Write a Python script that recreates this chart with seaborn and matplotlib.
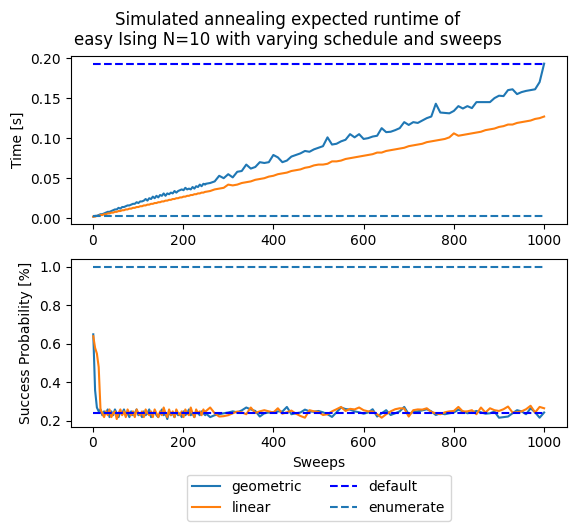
import numpy as np
import pandas as pd
import matplotlib
matplotlib.use("Agg")
import matplotlib.pyplot as plt
import seaborn as sns
from matplotlib.lines import Line2D

# Sweep grid: dense sampling at low sweeps, then every 10
sweeps = list(range(1, 250, 4)) + list(range(250, 1001, 10))

schedules = ["geometric", "linear"]

time_geometric = [
    .002, .003, .003, .004, .005, .005, .006, .007, .008, .008, .009, .010, .011, .011, .013, .012,
    .014, .014, .015, .016, .016, .017, .018, .018, .020, .019, .021, .021, .022, .024, .022, .025,
    .024, .027, .025, .028, .026, .029, .028, .031, .028, .031, .030, .032, .031, .034, .032, .034,
    .035, .036, .035, .038, .036, .037, .036, .039, .037, .040, .039, .042, .040, .043, .042,
    .043, .044, .046, .053, .050, .055, .051, .058, .059, .067, .062, .064, .070, .069, .070, .079,
    .076, .070, .072, .077, .079, .081, .084, .083, .086, .088, .090, .101, .092, .093, .096, .098,
    .105, .101, .105, .099, .100, .102, .103, .1125, .1075, .108, .110, .1125, .120, .1165, .120, .119,
    .122, .125, .127, .143, .132, .1315, .131, .134, .140, .137, .140, .1375, .145, .145, .145, .145,
    .150, .153, .1525, .160, .161, .155, .1575, .159, .160, .161, .170, .193]

time_linear = [
    .002, .002, .003, .003, .004, .004, .005, .005, .006, .006, .007, .007, .008, .008, .009, .009,
    .010, .010, .011, .011, .012, .012, .013, .013, .014, .014, .015, .015, .016, .016, .017, .017,
    .018, .018, .019, .019, .020, .020, .021, .021, .022, .022, .023, .023, .024, .024, .025, .025,
    .026, .026, .027, .027, .028, .028, .029, .029, .030, .030, .031, .031, .032, .032, .033,
    .033, .034, .036, .037, .038, .042, .041, .042, .044, .045, .046, .048, .049, .050, .052, .053,
    .055, .056, .057, .059, .060, .061, .063, .064, .066, .067, .067, .068, .071, .071, .072, .074,
    .075, .076, .077, .078, .079, .080, .082, .082, .084, .085, .086, .087, .088, .090, .091, .092,
    .093, .095, .096, .097, .098, .099, .101, .106, .103, .104, .105, .106, .107, .108, .110, .111,
    .112, .114, .115, .117, .117, .119, .120, .121, .122, .124, .125, .127]

success_geometric = [
    .65, .36, .27, .25, .26, .23, .25, .24, .26, .22, .25, .23, .26, .24, .22, .25,
    .24, .26, .23, .24, .22, .25, .23, .24, .26, .23, .24, .22, .25, .23, .24, .26,
    .22, .24, .25, .23, .22, .24, .26, .23, .24, .21, .25, .23, .24, .22, .25, .23,
    .24, .22, .25, .23, .24, .26, .23, .24, .22, .25, .24, .23, .25, .24, .23,
    .24, .22, .23, .235, .24, .244, .25, .245, .255, .27, .26, .252, .223, .24, .244, .245,
    .25, .249, .273, .235, .24, .244, .259, .25, .248, .252, .245, .235, .221, .245, .27, .262,
    .259, .25, .245, .238, .244, .261, .223, .24, .256, .231, .24, .25, .273, .235, .247, .25,
    .255, .261, .25, .231, .24, .235, .24, .244, .259, .25, .24, .245, .252, .245, .238, .24,
    .249, .217, .22, .223, .24, .256, .25, .235, .266, .245, .217, .244]

success_linear = [
    .64, .58, .55, .48, .26, .24, .22, .25, .23, .26, .22, .24, .25, .21, .24, .26,
    .23, .25, .22, .26, .24, .23, .25, .22, .26, .24, .23, .25, .22, .26, .24, .23,
    .25, .22, .26, .24, .22, .25, .23, .27, .24, .22, .26, .23, .25, .22, .26, .24,
    .23, .25, .22, .26, .24, .23, .27, .24, .22, .26, .24, .25, .23, .26, .24,
    .25, .27, .24, .223, .225, .23, .24, .249, .245, .235, .27, .242, .25, .256, .25, .244,
    .266, .238, .245, .254, .238, .226, .217, .256, .25, .247, .231, .235, .25, .261, .273, .252,
    .263, .26, .27, .256, .25, .249, .235, .217, .235, .25, .261, .266, .265, .223, .256, .26,
    .259, .266, .247, .24, .235, .245, .25, .252, .273, .249, .25, .256, .235, .27, .244, .266,
    .256, .252, .261, .275, .244, .245, .25, .261, .279, .244, .273, .266]

default_time = 0.192
enumerate_time = 0.0025
default_success = 0.242
enumerate_success = 1.0

for arr in (time_geometric, time_linear, success_geometric, success_linear):
    assert len(arr) == len(sweeps), len(arr)

df = pd.DataFrame({
    "sweeps": sweeps * 2,
    "schedule": ["geometric"] * len(sweeps) + ["linear"] * len(sweeps),
    "time": time_geometric + time_linear,
    "success": success_geometric + success_linear,
})

palette = {"geometric": "#1f77b4", "linear": "#ff7f0e"}

fig = plt.figure(figsize=(5.76, 5.32), dpi=100)
ax1 = fig.add_axes([0.1228, 0.5784, 0.861, 0.3163])
ax2 = fig.add_axes([0.1228, 0.198, 0.861, 0.3146])

sns.lineplot(data=df, x="sweeps", y="time", hue="schedule", palette=palette,
             ax=ax1, legend=False, linewidth=1.5)
ax1.hlines(default_time, sweeps[0], sweeps[-1], colors="blue", linestyles="--", linewidth=1.5)
ax1.hlines(enumerate_time, sweeps[0], sweeps[-1], colors="#1f77b4", linestyles="--", linewidth=1.5)
ax1.set_ylabel("Time [s]")
ax1.set_xlabel("")
ax1.set_yticks([0.0, 0.05, 0.10, 0.15, 0.20])
ax1.set_yticklabels(["0.00", "0.05", "0.10", "0.15", "0.20"])
ax1.set_xticks([0, 200, 400, 600, 800, 1000])

sns.lineplot(data=df, x="sweeps", y="success", hue="schedule", palette=palette,
             ax=ax2, legend=False, linewidth=1.5)
ax2.hlines(default_success, sweeps[0], sweeps[-1], colors="blue", linestyles="--", linewidth=1.5)
ax2.hlines(enumerate_success, sweeps[0], sweeps[-1], colors="#1f77b4", linestyles="--", linewidth=1.5)
ax2.set_ylabel("Success Probability [%]")
ax2.set_xlabel("Sweeps")
ax2.set_yticks([0.2, 0.4, 0.6, 0.8, 1.0])
ax2.set_xticks([0, 200, 400, 600, 800, 1000])

handles = [
    Line2D([], [], color="#1f77b4", lw=1.5),
    Line2D([], [], color="#ff7f0e", lw=1.5),
    Line2D([], [], color="blue", lw=1.5, ls="--"),
    Line2D([], [], color="#1f77b4", lw=1.5, ls="--"),
]
labels = ["geometric", "linear", "default", "enumerate"]
fig.legend(handles, labels, loc="upper center", bbox_to_anchor=(0.5533, 0.121), ncol=2)

fig.suptitle("Simulated annealing expected runtime of\neasy Ising N=10 with varying schedule and sweeps",
             fontsize=12, y=0.98)

fig.savefig("out.png", dpi=100)
